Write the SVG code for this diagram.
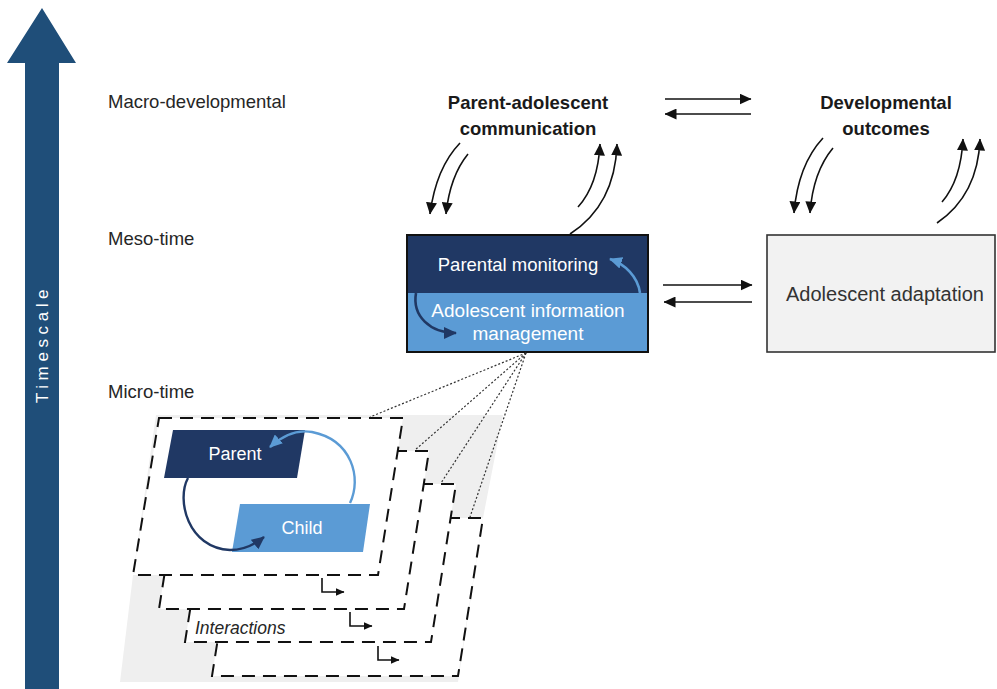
<svg xmlns="http://www.w3.org/2000/svg" width="997" height="689" viewBox="0 0 997 689">
  <defs>
    <style>
      .lbl { font-family: "Liberation Sans", Arial, sans-serif; font-size: 18.5px; fill: #262626; }
      .ttl { font-family: "Liberation Sans", Arial, sans-serif; font-size: 18.5px; font-weight: bold; fill: #1a1a1a; text-anchor: middle; }
      .wht { font-family: "Liberation Sans", Arial, sans-serif; fill: #ffffff; text-anchor: middle; }
      .blk { fill: none; stroke: #111; stroke-width: 1.6; }
      .frame { fill: #ffffff; stroke: #111; stroke-width: 2; stroke-dasharray: 13 8; }
      .dot { fill: none; stroke: #333; stroke-width: 1.2; stroke-dasharray: 2 2; }
    </style>
    <marker id="ah" markerUnits="userSpaceOnUse" markerWidth="12" markerHeight="11" refX="11.5" refY="5.5" orient="auto">
      <path d="M0,0 L12,5.5 L0,11 z" fill="#111"/>
    </marker>
    <marker id="ahS" markerUnits="userSpaceOnUse" markerWidth="9" markerHeight="8" refX="8.5" refY="4" orient="auto">
      <path d="M0,0 L9,4 L0,8 z" fill="#111"/>
    </marker>
    <marker id="ahLight" markerUnits="userSpaceOnUse" markerWidth="13" markerHeight="12" refX="12" refY="6" orient="auto">
      <path d="M0,0 L13,6 L0,12 z" fill="#5b9bd5"/>
    </marker>
    <marker id="ahDark" markerUnits="userSpaceOnUse" markerWidth="13" markerHeight="12" refX="12" refY="6" orient="auto">
      <path d="M0,0 L13,6 L0,12 z" fill="#203864"/>
    </marker>
  </defs>

  <rect x="0" y="0" width="997" height="689" fill="#ffffff"/>

  <!-- timescale axis -->
  <g id="timescale">
    <path d="M25,689 L25,63 L7,63 L42,8 L76,63 L59,63 L59,689 Z" fill="#1f4e79"/>
    <text class="wht" transform="translate(48,344) rotate(-90)" style="font-size:17px; letter-spacing:4.6px">Timescale</text>
  </g>

  <!-- level labels -->
  <g id="levels">
    <text class="lbl" x="108" y="108">Macro-developmental</text>
    <text class="lbl" x="108" y="245">Meso-time</text>
    <text class="lbl" x="108" y="398">Micro-time</text>
  </g>

  <!-- macro level -->
  <g id="communication">
    <text class="ttl" x="528" y="109">Parent-adolescent</text>
    <text class="ttl" x="528" y="135">communication</text>
  </g>
  <g id="outcomes">
    <text class="ttl" x="886" y="109">Developmental</text>
    <text class="ttl" x="886" y="135">outcomes</text>
  </g>

  <!-- meso level -->
  <g id="monitoring">
    <rect x="407" y="235" width="241" height="58" fill="#203864"/>
    <rect x="407" y="293" width="241" height="59" fill="#5b9bd5"/>
    <rect x="407" y="235" width="241" height="117" fill="none" stroke="#111" stroke-width="2"/>
    <text class="wht" x="518" y="271" style="font-size:18.5px">Parental monitoring</text>
    <text class="wht" x="528" y="317" style="font-size:19px">Adolescent information</text>
    <text class="wht" x="528" y="340" style="font-size:19px">management</text>
    <path d="M640,293 C638,277 625,264 610,259" fill="none" stroke="#5b9bd5" stroke-width="2.6" marker-end="url(#ahLight)"/>
    <path d="M416,293 C412,316 430,333 456,333" fill="none" stroke="#203864" stroke-width="2.6" marker-end="url(#ahDark)"/>
  </g>

  <g id="adaptation">
    <rect x="767" y="235" width="228" height="117" fill="#f2f2f2" stroke="#333" stroke-width="1.6"/>
    <text class="lbl" x="885" y="301" text-anchor="middle" style="font-size:20px; fill:#333">Adolescent adaptation</text>
  </g>

  <!-- micro level -->
  <g id="interactions">
    <polygon points="156,415 503,415 483,518 458,682 120,682 133,575" fill="#efefef"/>
    <polygon class="frame" points="237,518 483,518 458,676 212,676"/>
    <polygon class="frame" points="210,484 456,484 431,642 185,642"/>
    <polygon class="frame" points="184,451 429,451 404,609 159,609"/>
    <polygon class="frame" points="159,418 403,418 378,575 133,575"/>
    <text x="195" y="634" style="font-family:'Liberation Sans', Arial, sans-serif; font-size:17.5px; font-style:italic; fill:#262626">Interactions</text>
    <path class="blk" d="M322,578 V592 H344" marker-end="url(#ahS)"/>
    <path class="blk" d="M350,612 V626 H372" marker-end="url(#ahS)"/>
    <path class="blk" d="M378,646 V660 H399" marker-end="url(#ahS)"/>
  </g>

  <g id="parent">
    <polygon points="173,430 305,430 297,478 164,478" fill="#203864"/>
    <text class="wht" x="235" y="460" style="font-size:18px">Parent</text>
  </g>
  <g id="child">
    <polygon points="240,504 370,504 363,552 232,552" fill="#5b9bd5"/>
    <text class="wht" x="302" y="534" style="font-size:18px">Child</text>
  </g>

  <!-- connectors -->
  <g id="connectors">
    <!-- macro exchange -->
    <line class="blk" x1="665" y1="99" x2="751" y2="99" marker-end="url(#ah)"/>
    <line class="blk" x1="751" y1="114" x2="665" y2="114" marker-end="url(#ah)"/>
    <!-- meso exchange -->
    <line class="blk" x1="663" y1="285" x2="752" y2="285" marker-end="url(#ah)"/>
    <line class="blk" x1="752" y1="302" x2="664" y2="302" marker-end="url(#ah)"/>

    <!-- communication <-> monitoring -->
    <path class="blk" d="M460,143 Q436,168 430,214" marker-end="url(#ah)"/>
    <path class="blk" d="M468,154 Q450,176 446,214" marker-end="url(#ah)"/>
    <path class="blk" d="M578,207 Q598,185 600,144" marker-end="url(#ah)"/>
    <path class="blk" d="M570,234 Q615,205 617,144" marker-end="url(#ah)"/>

    <!-- outcomes <-> adaptation -->
    <path class="blk" d="M823,138 Q798,165 794,213" marker-end="url(#ah)"/>
    <path class="blk" d="M833,148 Q813,172 810,213" marker-end="url(#ah)"/>
    <path class="blk" d="M942,202 Q961,180 963,139" marker-end="url(#ah)"/>
    <path class="blk" d="M937,223 Q978,195 980,139" marker-end="url(#ah)"/>

    <!-- meso to micro projection -->
    <line class="dot" x1="526" y1="353" x2="370" y2="417"/>
    <line class="dot" x1="526" y1="353" x2="415" y2="450"/>
    <line class="dot" x1="526" y1="353" x2="441" y2="483"/>
    <line class="dot" x1="526" y1="353" x2="470" y2="517"/>

    <!-- parent/child loop -->
    <path d="M350,503 C362,478 352,440 312,432 C295,429 282,436 270,447" fill="none" stroke="#5b9bd5" stroke-width="2.4" marker-end="url(#ahLight)"/>
    <path d="M188,478 C176,500 188,548 230,550 C243,550 254,545 264,537" fill="none" stroke="#203864" stroke-width="2.4" marker-end="url(#ahDark)"/>
  </g>
</svg>
